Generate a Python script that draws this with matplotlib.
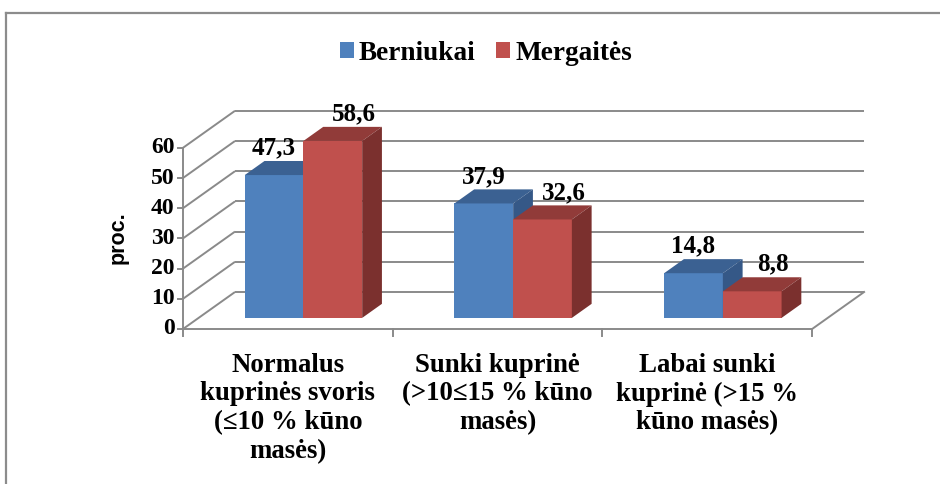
import matplotlib
matplotlib.use("Agg")
import matplotlib.pyplot as plt
from matplotlib.patches import Polygon, Patch
from matplotlib.lines import Line2D

# data
kategorijos = ["Normalus\nkuprinės svoris\n(≤10 % kūno\nmasės)",
               "Sunki kuprinė\n(>10≤15 % kūno\nmasės)",
               "Labai sunki\nkuprinė (>15 %\nkūno masės)"]
serijos = ["Berniukai", "Mergaitės"]
berniukai = [47.3, 37.9, 14.8]
mergaites = [58.6, 32.6, 8.8]
y_ticks = [0, 10, 20, 30, 40, 50, 60]

# colours (front, top, side)
spalvos = [("#4F81BD", "#3B6192", "#355887"),
           ("#C0504D", "#913B39", "#7B302E")]
tinklas = "#8A8A8A"

serif = "Liberation Serif"

# oblique 3d geometry in data units
px_cat = 209.7      # pixels per category
px_val = 3.02       # pixels per value unit
x0_px, y0_px = 183, 329
DX = 52 / px_cat    # full depth shift in x (categories)
DY = 37 / px_val    # full depth shift in y (values)
d0, d1 = 0.30, 0.68  # bar depth range
bw = 0.28           # bar width

fig = plt.figure(figsize=(9.4, 4.84), dpi=100)
ax = fig.add_axes([0, 0, 1, 1])
ax.set_xlim(-x0_px / px_cat, (940 - x0_px) / px_cat)
ax.set_ylim((y0_px - 484) / px_val, y0_px / px_val)
ax.axis("off")

n = len(kategorijos)

# walls / gridlines
for v in y_ticks:
    ax.plot([0, DX], [v, v + DY], color=tinklas, lw=1.4, zorder=1, solid_capstyle="butt")
    ax.plot([DX, n + DX], [v + DY, v + DY], color=tinklas, lw=1.4, zorder=1, solid_capstyle="butt")
    ax.plot([0, -0.025], [v, v], color=tinklas, lw=1.4, zorder=1)
    ax.text(-0.04, v, str(v), ha="right", va="center", fontsize=17,
            fontweight="bold", family=serif)
# front axis + floor
ax.plot([0, 0], [0, y_ticks[-1]], color=tinklas, lw=1.4, zorder=1)
ax.plot([0, n], [0, 0], color=tinklas, lw=1.4, zorder=1)
ax.plot([n, n + DX], [0, DY], color=tinklas, lw=1.4, zorder=1)
for i in range(n + 1):
    ax.plot([i, i], [0, -2.2], color=tinklas, lw=1.4, zorder=1)

# bars
def bar3d(xl, h, c):
    xr = xl + bw
    fx, fy = d0 * DX, d0 * DY
    bx, by = d1 * DX, d1 * DY
    front = [(xl + fx, fy), (xr + fx, fy), (xr + fx, h + fy), (xl + fx, h + fy)]
    top = [(xl + fx, h + fy), (xr + fx, h + fy), (xr + bx, h + by), (xl + bx, h + by)]
    side = [(xr + fx, fy), (xr + bx, by), (xr + bx, h + by), (xr + fx, h + fy)]
    ax.add_patch(Polygon(front, closed=True, fc=c[0], ec="none", zorder=3))
    ax.add_patch(Polygon(top, closed=True, fc=c[1], ec="none", zorder=3))
    ax.add_patch(Polygon(side, closed=True, fc=c[2], ec="none", zorder=3))

for i in range(n):
    for s, vals in enumerate([berniukai, mergaites]):
        xl = i + 0.22 + s * bw
        bar3d(xl, vals[i], spalvos[s])
        lx = xl + bw / 2 + d0 * DX + (0.0 if s == 0 else 0.1)
        ax.annotate(f"{vals[i]:.1f}".replace(".", ","), (lx, vals[i] + d1 * DY),
                    xytext=(0, 13), textcoords="offset pixels", ha="center", va="center",
                    fontsize=18, fontweight="bold", family=serif, zorder=5)

for i, k in enumerate(kategorijos):
    ax.text(i + 0.5, -7.8, k, ha="center", va="top", fontsize=19.3, fontweight="bold",
            family=serif, linespacing=1.2)

ax.text(-0.31, 30.3, "proc.", rotation=90, ha="center", va="center", fontsize=15.5,
        fontweight="bold", family="Liberation Sans")

# legend
handles = [Patch(fc=spalvos[s][0], ec="none") for s in range(2)]
fig.legend(handles, serijos, loc="center", bbox_to_anchor=(486 / 940, 1 - 53 / 484), ncol=2,
           frameon=False, handlelength=0.5, handleheight=0.5, handletextpad=0.2,
           columnspacing=0.75, prop={"family": serif, "weight": "bold", "size": 19.6})

# outer frame
fig.add_artist(Line2D([5.5 / 940, 5.5 / 940], [0, 1 - 13 / 484], transform=fig.transFigure,
                      color="#8C8C8C", lw=1.6))
fig.add_artist(Line2D([5.5 / 940, 1], [1 - 13 / 484, 1 - 13 / 484], transform=fig.transFigure,
                      color="#8C8C8C", lw=1.6))

fig.savefig("out.png", dpi=100)
